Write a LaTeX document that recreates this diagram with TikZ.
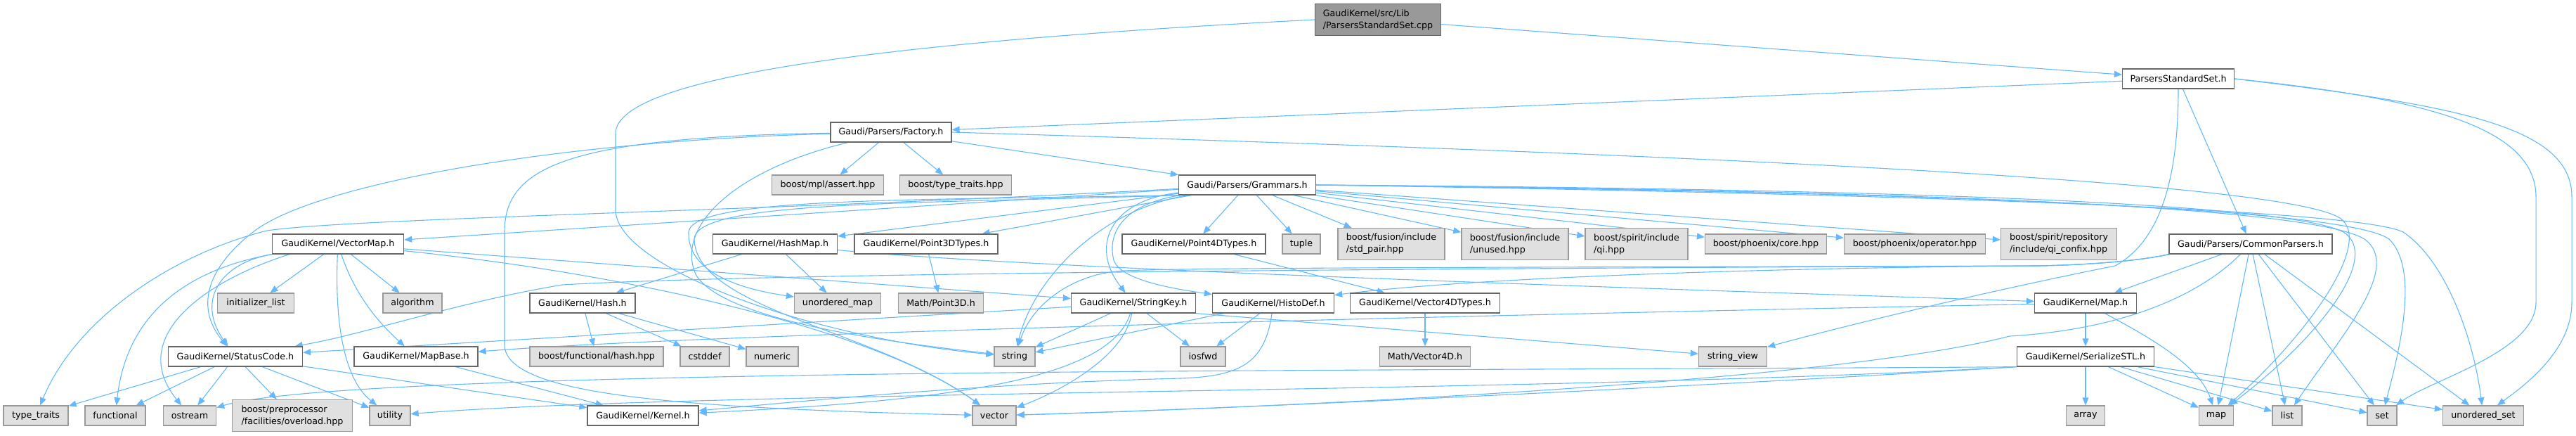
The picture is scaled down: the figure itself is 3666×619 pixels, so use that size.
\documentclass[tikz,border=0pt]{standalone}
\usepackage{fontspec}
\setmainfont{DejaVu Sans}
\usetikzlibrary{arrows.meta,backgrounds}
\definecolor{edgeblue}{HTML}{63B8FF}
\definecolor{boxline}{HTML}{666666}
\definecolor{sysline}{HTML}{999999}
\definecolor{sysfill}{HTML}{E0E0E0}
\definecolor{rootfill}{HTML}{999999}

\begin{document}
\begin{tikzpicture}[x=1pt,y=-1pt,
  every node/.style={font=\fontsize{12.7}{17}\selectfont,inner sep=2pt,minimum height=28pt,line width=1.3pt},
  hdr/.style={draw=boxline,fill=white},
  sysh/.style={draw=sysline,fill=sysfill},
  two/.style={minimum height=45pt,align=left},
  dep/.style={draw=edgeblue,line width=1.1pt,-{Triangle[length=11pt,width=9pt]}}]
  \useasboundingbox (0,0) rectangle (3666,619);

  % top of the graph
  \node[draw=boxline,fill=rootfill,two,minimum width=179pt] (root) at (1961,28) {GaudiKernel/src/Lib\\/ParsersStandardSet.cpp};
  \node[hdr,minimum width=159pt] (pss) at (3100,112) {ParsersStandardSet.h};
  \node[hdr,minimum width=172pt] (factory) at (1268,188) {Gaudi/Parsers/Factory.h};
  \node[sysh,minimum width=159pt] (mplassert) at (1178,263) {boost/mpl/assert.hpp};
  \node[sysh,minimum width=159pt] (boosttt) at (1360,263) {boost/type\_traits.hpp};
  \node[hdr,minimum width=195pt] (grammars) at (1775,263) {Gaudi/Parsers/Grammars.h};

  % row below the grammars
  \node[hdr,minimum width=187pt] (vectormap) at (481,347) {GaudiKernel/VectorMap.h};
  \node[hdr,minimum width=177pt] (hashmap) at (1103,347) {GaudiKernel/HashMap.h};
  \node[hdr,minimum width=204pt] (pointthree) at (1318,347) {GaudiKernel/Point3DTypes.h};
  \node[hdr,minimum width=204pt] (pointfour) at (1699,347) {GaudiKernel/Point4DTypes.h};
  \node[sysh,minimum width=54pt] (tuple) at (1852,347) {tuple};
  \node[sysh,two,minimum width=152pt] (stdpair) at (1980,347) {boost/fusion/include\\/std\_pair.hpp};
  \node[sysh,two,minimum width=152pt] (unused) at (2156,347) {boost/fusion/include\\/unused.hpp};
  \node[sysh,two,minimum width=146pt] (qi) at (2329,347) {boost/spirit/include\\/qi.hpp};
  \node[sysh,minimum width=173pt] (phxcore) at (2513,347) {boost/phoenix/core.hpp};
  \node[sysh,minimum width=201pt] (phxop) at (2725,347) {boost/phoenix/operator.hpp};
  \node[sysh,two,minimum width=165pt] (confix) at (2930,347) {boost/spirit/repository\\/include/qi\_confix.hpp};
  \node[hdr,minimum width=232pt] (common) at (3203,347) {Gaudi/Parsers/CommonParsers.h};

  \node[sysh,minimum width=109pt] (initlist) at (364,431) {initializer\_list};
  \node[sysh,minimum width=84pt] (algorithm) at (587,431) {algorithm};
  \node[hdr,minimum width=150pt] (hash) at (829,431) {GaudiKernel/Hash.h};
  \node[sysh,minimum width=123pt] (umap) at (1192,431) {unordered\_map};
  \node[sysh,minimum width=121pt] (mathpoint) at (1339,431) {Math/Point3D.h};
  \node[hdr,minimum width=177pt] (stringkey) at (1613,431) {GaudiKernel/StringKey.h};
  \node[hdr,minimum width=173pt] (histodef) at (1812,431) {GaudiKernel/HistoDef.h};
  \node[hdr,minimum width=213pt] (vecfourtypes) at (2028,431) {GaudiKernel/Vector4DTypes.h};
  \node[hdr,minimum width=145pt] (maph) at (2968,431) {GaudiKernel/Map.h};

  \node[hdr,minimum width=191pt] (statuscode) at (335,507) {GaudiKernel/StatusCode.h};
  \node[hdr,minimum width=176pt] (mapbase) at (592,507) {GaudiKernel/MapBase.h};
  \node[sysh,minimum width=190pt] (boosthash) at (849,507) {boost/functional/hash.hpp};
  \node[sysh,minimum width=70pt] (cstddef) at (1003,507) {cstddef};
  \node[sysh,minimum width=74pt] (numeric) at (1099,507) {numeric};
  \node[sysh,minimum width=58pt] (sstring) at (1444,507) {string};
  \node[sysh,minimum width=64pt] (iosfwd) at (1712,507) {iosfwd};
  \node[sysh,minimum width=129pt] (mathvec) at (2028,507) {Math/Vector4D.h};
  \node[sysh,minimum width=97pt] (stringview) at (2466,507) {string\_view};
  \node[hdr,minimum width=195pt] (serialize) at (2968,507) {GaudiKernel/SerializeSTL.h};

  % bottom row
  \node[sysh,minimum width=92pt] (typetraits) at (51,591) {type\_traits};
  \node[sysh,minimum width=86pt] (functional) at (164,591) {functional};
  \node[sysh,minimum width=75pt] (ostream) at (270,591) {ostream};
  \node[sysh,two,minimum width=171pt] (overload) at (416,591) {boost/preprocessor\\/facilities/overload.hpp};
  \node[sysh,minimum width=58pt] (utility) at (555,591) {utility};
  \node[hdr,minimum width=158pt] (kernel) at (915,591) {GaudiKernel/Kernel.h};
  \node[sysh,minimum width=62pt] (svector) at (1415,591) {vector};
  \node[sysh,minimum width=55pt] (sarray) at (2968,591) {array};
  \node[sysh,minimum width=49pt] (smap) at (3154,591) {map};
  \node[sysh,minimum width=42pt] (slist) at (3255,591) {list};
  \node[sysh,minimum width=42pt] (sset) at (3390,591) {set};
  \node[sysh,minimum width=115pt] (suset) at (3534,591) {unordered\_set};

  \begin{scope}[on background layer]
  % root and ParsersStandardSet.h
  \draw[dep] (root) -- (pss);
  \draw[dep] (root.west) .. controls (1250,60) and (876,110) .. (876,190) -- (876,300)
    .. controls (880,380) and (1150,480) .. (sstring);
  \draw[dep] (pss) -- (factory);
  \draw[dep] (pss) -- (common);
  \draw[dep] (pss) .. controls (3100,240) and (3080,340) .. (3010,378)
    .. controls (2800,420) and (2600,470) .. (stringview);
  \draw[dep] (pss.east) .. controls (3450,140) and (3609,180) .. (3609,280) -- (3609,430)
    .. controls (3609,500) and (3460,540) .. (sset);
  \draw[dep] (pss.east) .. controls (3500,150) and (3660,180) .. (3660,280) -- (3660,430)
    .. controls (3660,500) and (3590,550) .. (suset);

  % Factory.h
  \draw[dep] (factory) -- (mplassert);
  \draw[dep] (factory) -- (boosttt);
  \draw[dep] (factory) -- (grammars);
  \draw[dep] (factory.east) .. controls (2500,222) and (3250,260) .. (3330,310)
    .. controls (3380,345) and (3280,480) .. (smap);
  \draw[dep] (factory) .. controls (800,200) and (450,260) .. (360,330)
    .. controls (290,385) and (280,440) .. (statuscode);
  \draw[dep] (factory) .. controls (800,195) and (718,240) .. (718,330) -- (718,490)
    .. controls (718,560) and (950,580) .. (svector);
  \draw[dep] (factory) .. controls (1050,240) and (960,320) .. (990,390)
    .. controls (1030,460) and (1300,490) .. (sstring);

  % Grammars.h
  \draw[dep] (grammars) -- (vectormap);
  \draw[dep] (grammars) .. controls (1100,300) and (500,310) .. (380,328)
    .. controls (250,360) and (110,450) .. (typetraits);
  \draw[dep] (grammars) -- (hashmap);
  \draw[dep] (grammars) -- (pointthree);
  \draw[dep] (grammars) -- (pointfour);
  \draw[dep] (grammars) -- (tuple);
  \draw[dep] (grammars) -- (stdpair);
  \draw[dep] (grammars) -- (unused);
  \draw[dep] (grammars) -- (qi);
  \draw[dep] (grammars) -- (phxcore);
  \draw[dep] (grammars) -- (phxop);
  \draw[dep] (grammars) -- (confix);
  \draw[dep] (grammars) .. controls (1580,285) and (1550,350) .. (stringkey);
  \draw[dep] (grammars) .. controls (1600,290) and (1575,330) .. (1585,370)
    .. controls (1595,400) and (1680,412) .. (histodef);
  \draw[dep] (grammars) .. controls (1560,300) and (1470,400) .. (sstring);
  \draw[dep] (grammars.south west) .. controls (1300,285) and (985,280) .. (980,330)
    .. controls (978,390) and (1060,412) .. (umap);
  \draw[dep] (grammars.south west) .. controls (1300,290) and (990,285) .. (988,340)
    .. controls (990,440) and (1250,470) .. (svector);
  \draw[dep] (grammars.east) .. controls (2600,268) and (3250,285) .. (3335,330)
    .. controls (3390,365) and (3300,480) .. (smap);
  \draw[dep] (grammars.east) .. controls (2600,270) and (3280,288) .. (3365,340)
    .. controls (3420,380) and (3330,480) .. (slist);
  \draw[dep] (grammars.east) .. controls (2600,272) and (3330,290) .. (3400,340)
    .. controls (3440,380) and (3420,480) .. (sset);
  \draw[dep] (grammars.east) .. controls (2600,274) and (3350,295) .. (3420,330)
    .. controls (3480,370) and (3520,480) .. (suset);

  % VectorMap.h
  \draw[dep] (vectormap) -- (initlist);
  \draw[dep] (vectormap) -- (algorithm);
  \draw[dep] (vectormap) .. controls (505,420) and (540,460) .. (mapbase);
  \draw[dep] (vectormap) .. controls (476,460) and (490,540) .. (utility);
  \draw[dep] (vectormap.south west) .. controls (310,375) and (280,430) .. (statuscode);
  \draw[dep] (vectormap.south west) .. controls (260,385) and (180,450) .. (functional);
  \draw[dep] ([xshift=25pt]vectormap.south west) .. controls (290,400) and (180,480) .. (ostream);
  \draw[dep] (vectormap) -- (stringkey);
  \draw[dep] (vectormap) .. controls (900,390) and (1250,470) .. (svector);

  % HashMap.h, Hash.h and the point types
  \draw[dep] (hashmap) -- (hash);
  \draw[dep] (hashmap) -- (umap);
  \draw[dep] (hashmap) .. controls (1500,385) and (2500,415) .. (maph);
  \draw[dep] (hash) -- (boosthash);
  \draw[dep] (hash) -- (cstddef);
  \draw[dep] (hash) -- (numeric);
  \draw[dep] (pointthree) -- (mathpoint);
  \draw[dep] (pointfour) -- (vecfourtypes);
  \draw[dep] (vecfourtypes) -- (mathvec);

  % StringKey.h and HistoDef.h
  \draw[dep] (stringkey) -- (statuscode);
  \draw[dep] (stringkey) -- (sstring);
  \draw[dep] (stringkey) .. controls (1580,540) and (1350,570) .. (kernel);
  \draw[dep] (stringkey) .. controls (1600,510) and (1500,560) .. (svector);
  \draw[dep] (stringkey) -- (iosfwd);
  \draw[dep] (stringkey.south east) -- (stringview);
  \draw[dep] (histodef) -- (sstring);
  \draw[dep] (histodef) -- (iosfwd);
  \draw[dep] (histodef) .. controls (1800,520) and (1760,535) .. (1680,538)
    .. controls (1400,545) and (1150,570) .. (kernel);

  % StatusCode.h and MapBase.h
  \draw[dep] (statuscode) -- (typetraits);
  \draw[dep] (statuscode) -- (functional);
  \draw[dep] (statuscode) -- (ostream);
  \draw[dep] (statuscode) -- (overload);
  \draw[dep] (statuscode) -- (utility);
  \draw[dep] (statuscode) -- (kernel);
  \draw[dep] (mapbase) -- (kernel);

  % Map.h and SerializeSTL.h
  \draw[dep] (maph) -- (serialize);
  \draw[dep] (maph) .. controls (3060,480) and (3130,520) .. (smap);
  \draw[dep] (maph) .. controls (2000,450) and (1000,475) .. (mapbase);
  \draw[dep] (serialize) -- (sarray);
  \draw[dep] (serialize) -- (smap);
  \draw[dep] (serialize) -- (slist);
  \draw[dep] (serialize) -- (sset);
  \draw[dep] (serialize) -- (suset);
  \draw[dep] (serialize.south west) .. controls (2000,528) and (500,522) .. (ostream);
  \draw[dep] (serialize.south west) .. controls (2200,560) and (1000,555) .. (utility);
  \draw[dep] (serialize.south west) .. controls (2500,545) and (1800,580) .. (svector);

  % CommonParsers.h
  \draw[dep] (common) -- (maph);
  \draw[dep] (common) -- (smap);
  \draw[dep] (common) -- (slist);
  \draw[dep] (common) -- (sset);
  \draw[dep] (common) -- (suset);
  \draw[dep] (common) .. controls (3120,430) and (3000,470) .. (2860,478)
    .. controls (2600,545) and (1800,580) .. (svector);
  \draw[dep] (common.south west) .. controls (3040,372) and (2960,377) .. (2900,378)
    .. controls (2300,380) and (1700,380) .. (1600,385)
    .. controls (1530,388) and (1470,430) .. (sstring);
  \draw[dep] (common.south west) .. controls (3040,372) and (2960,377) .. (2900,378)
    .. controls (2000,382) and (1100,388) .. (800,405)
    .. controls (650,430) and (520,475) .. (statuscode);
  \draw[dep] (common.south west) .. controls (3040,372) and (2960,377) .. (2900,378)
    .. controls (2400,382) and (2050,400) .. (histodef);
  \end{scope}
\end{tikzpicture}
\end{document}
